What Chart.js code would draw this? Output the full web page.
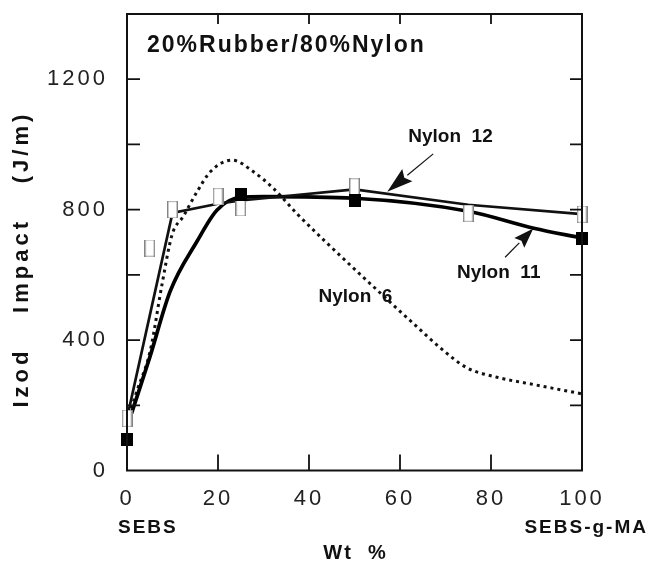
<!DOCTYPE html>
<html><head><meta charset="utf-8">
<script src="https://cdn.jsdelivr.net/npm/chart.js@4"></script>
<style>html,body{margin:0;padding:0;background:#fff}canvas{display:block}</style>
</head><body>
<canvas id="c" width="650" height="565"></canvas>
<script>
// ---- data ----
const nylon12X = [0, 10, 20, 25, 50, 75, 100];
const nylon12Y = [160, 790, 818, 828, 862, 815, 786];
const nylon11X = [1, 5, 9.5, 15.4, 19.8, 25, 30, 50, 75, 89.4, 100];
const nylon11Y = [175, 347, 550, 703, 799, 838, 840, 835, 795, 743, 713];
const nylon6X = [0, 2.2, 5.1, 7.7, 9.9, 12.4, 15.4, 18.3, 23.1, 27.8, 32.2, 37.4, 43.6, 56, 63, 69.2, 74.7, 81.3, 90, 100];
const nylon6Y = [150, 245, 367, 571, 723, 780, 855, 916, 952, 916, 865, 787, 702, 540, 450, 372, 315, 286, 262, 235];
const openMarkX = [0, 5, 10, 20, 25, 50, 75, 100];
const openMarkY = [160, 682, 800, 840, 806, 870, 789, 786];
const filledMarkX = [0, 25, 50, 100];
const filledMarkY = [95, 847, 827, 713];
const yLabeledTicks = [0, 400, 800, 1200];
const seriesLabels = ['Nylon  12', 'Nylon  11', 'Nylon  6'];
const chartTitle = '20%Rubber/80%Nylon';
const xEndLabels = ['SEBS', 'SEBS-g-MA'];
const xAxisTitle = 'Wt  %';
const yAxisTitleWords = ['Izod', 'Impact', '(J/m)'];

const pts = (xs, ys) => xs.map((v, i) => ({x: v, y: ys[i]}));

// marker images
const openMark = document.createElement('canvas');
openMark.width = 11; openMark.height = 17;
(function(){ const c = openMark.getContext('2d');
  c.fillStyle = '#fff'; c.fillRect(0,0,11,17);
  c.strokeStyle = '#bbb'; c.lineWidth = 1; c.strokeRect(0.5,0.5,10,16);
  c.strokeStyle = '#777'; c.lineWidth = 1.2;
  c.beginPath(); c.moveTo(0.8,0); c.lineTo(0.8,17); c.moveTo(10.2,0); c.lineTo(10.2,17); c.stroke();
})();
const filledMark = document.createElement('canvas');
filledMark.width = 12; filledMark.height = 13;
(function(){ const c = filledMark.getContext('2d'); c.fillStyle = '#000'; c.fillRect(0,0,12,13); })();

function arrow(ctx, x0, y0, x1, y1, headLen, headW) {
  const ang = Math.atan2(y1 - y0, x1 - x0);
  const bx = x1 - headLen * Math.cos(ang), by = y1 - headLen * Math.sin(ang);
  ctx.beginPath(); ctx.moveTo(x0, y0); ctx.lineTo(bx, by); ctx.stroke();
  const nx = -Math.sin(ang) * headW / 2, ny = Math.cos(ang) * headW / 2;
  const ix = x1 - headLen * 0.85 * Math.cos(ang), iy = y1 - headLen * 0.85 * Math.sin(ang);
  ctx.beginPath(); ctx.moveTo(x1, y1); ctx.lineTo(bx + nx, by + ny); ctx.lineTo(ix, iy); ctx.lineTo(bx - nx, by - ny); ctx.closePath(); ctx.fill();
}

const deco = {
  id: 'deco',
  beforeDraw(chart) { chart.ctx.letterSpacing = '3px'; },
  afterDraw(chart) {
    const {ctx, chartArea: a, scales: {x, y}} = chart;
    ctx.save();
    ctx.letterSpacing = '0px';
    ctx.strokeStyle = '#111'; ctx.fillStyle = '#111';
    ctx.lineWidth = 2;
    ctx.strokeRect(a.left, a.top, a.right - a.left, a.bottom - a.top);
    ctx.lineWidth = 1.8;
    ctx.beginPath();
    x.ticks.forEach(t => { if (t.value <= 0 || t.value >= 100) return;
      const px = x.getPixelForValue(t.value);
      ctx.moveTo(px, a.bottom); ctx.lineTo(px, a.bottom - 16);
      ctx.moveTo(px, a.top); ctx.lineTo(px, a.top + 10); });
    y.ticks.forEach(t => { if (t.value <= 0 || t.value >= 1400) return;
      const py = y.getPixelForValue(t.value);
      ctx.moveTo(a.left, py); ctx.lineTo(a.left + 13, py);
      ctx.moveTo(a.right, py); ctx.lineTo(a.right - 12, py); });
    ctx.stroke();

    // title
    ctx.textBaseline = 'middle';
    ctx.font = 'bold 23px "Liberation Sans", Arial, sans-serif';
    ctx.letterSpacing = '2px';
    ctx.textAlign = 'left';
    ctx.fillText(chartTitle, a.left + 20, a.top + 32);

    // series labels
    ctx.font = 'bold 19px "Liberation Sans", Arial, sans-serif';
    ctx.letterSpacing = '0px';
    ctx.textAlign = 'center';
    const lp = [[71.1, 1023], [81.7, 605], [50.2, 532]];
    seriesLabels.forEach((s, i) => ctx.fillText(s, x.getPixelForValue(lp[i][0]), y.getPixelForValue(lp[i][1])));

    // arrows
    ctx.lineWidth = 1.2;
    const ar = [[67.3, 971, 57.2, 855, 26, 16], [83.1, 654, 89.3, 742, 20, 14]];
    ar.forEach(r => arrow(ctx, x.getPixelForValue(r[0]), y.getPixelForValue(r[1]), x.getPixelForValue(r[2]), y.getPixelForValue(r[3]), r[4], r[5]));

    // x-axis extra labels
    ctx.font = 'bold 19px "Liberation Sans", Arial, sans-serif';
    ctx.letterSpacing = '2px';
    ctx.textAlign = 'left';
    ctx.fillText(xEndLabels[0], a.left - 9, 528);
    ctx.textAlign = 'right';
    ctx.fillText(xEndLabels[1], 648, 528);
    ctx.textAlign = 'center';
    ctx.font = 'bold 20px "Liberation Sans", Arial, sans-serif';
    ctx.fillText(xAxisTitle, (a.left + a.right) / 2 + 1, 553);

    // y-axis title
    ctx.save();
    ctx.translate(22, 0);
    ctx.rotate(-Math.PI / 2);
    ctx.font = 'bold 22px "Liberation Sans", Arial, sans-serif';
    ctx.letterSpacing = '4px';
    const wy = [379.5, 267.5, 149];
    yAxisTitleWords.forEach((w, i) => ctx.fillText(w, -wy[i] + 2, 0));
    ctx.restore();
    ctx.restore();
  }
};

new Chart(document.getElementById('c'), {
  type: 'line',
  data: {
    datasets: [
      {label: 'filled', data: pts(filledMarkX, filledMarkY), showLine: false, pointStyle: filledMark, pointRadius: 7, order: 0, clip: false},
      {label: 'open', data: pts(openMarkX, openMarkY), showLine: false, pointStyle: openMark, pointRadius: 8, order: 1, clip: false},
      {label: 'Nylon 12', data: pts(nylon12X, nylon12Y), borderColor: '#111', borderWidth: 2.7, tension: 0, pointRadius: 0, order: 2, clip: false},
      {label: 'Nylon 11', data: pts(nylon11X, nylon11Y), borderColor: '#000', borderWidth: 3.7, cubicInterpolationMode: 'monotone', pointRadius: 0, order: 3, clip: false},
      {label: 'Nylon 6', data: pts(nylon6X, nylon6Y), borderColor: '#111', borderWidth: 3, borderDash: [3, 4], cubicInterpolationMode: 'monotone', pointRadius: 0, order: 4, clip: false}
    ]
  },
  options: {
    responsive: false,
    animation: false,
    events: [],
    layout: {padding: {top: 14, right: 68, left: 0, bottom: 0}},
    plugins: {legend: {display: false}, tooltip: {enabled: false}},
    scales: {
      x: {
        type: 'linear', min: 0, max: 100,
        grid: {display: false}, border: {display: false},
        afterFit(s) { s.height = 94.5; s.paddingLeft = 0; s.paddingRight = 0; },
        ticks: {stepSize: 20, padding: 7, color: '#222', maxRotation: 0,
          font: {family: '"Liberation Sans", Arial, sans-serif', size: 22}}
      },
      y: {
        min: 0, max: 1400,
        grid: {display: false}, border: {display: false},
        afterFit(s) { s.width = 127; s.paddingTop = 0; s.paddingBottom = 0; },
        ticks: {stepSize: 200, padding: 11, color: '#222',
          callback: v => yLabeledTicks.includes(v) ? String(v) : '',
          font: {family: '"Liberation Sans", Arial, sans-serif', size: 22}}
      }
    }
  },
  plugins: [deco]
});
</script>
</body></html>
